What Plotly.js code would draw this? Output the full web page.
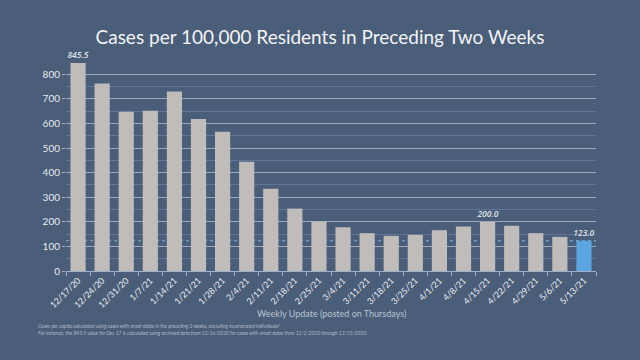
<!DOCTYPE html>
<html>
<head>
<meta charset="utf-8">
<script src="https://cdn.plot.ly/plotly-3.0.1.min.js"></script>
<style>html,body{margin:0;padding:0;background:#4a5d79;}#chart{width:640px;height:360px;}</style>
</head>
<body>
<div id="chart"></div>
<script>
const categories = ["12/17/20","12/24/20","12/31/20","1/7/21","1/14/21","1/21/21","1/28/21","2/4/21","2/11/21","2/18/21","2/25/21","3/4/21","3/11/21","3/18/21","3/25/21","4/1/21","4/8/21","4/15/21","4/22/21","4/29/21","5/6/21","5/13/21"];
const values = [845.5,763,648,652,730,618,566,444,335,254,202,178,154,143,147,166,181,200.0,184,154,139,123.0];
const valueLabels = ["<i>845.5</i>","","","","","","","","","","","","","","","","","<i>200.0</i>","","","","<i>123.0</i>"];
const highlightCategory = "5/13/21";
const referenceValue = 123.0;
const yTickValues = [0,100,200,300,400,500,600,700,800];

const barColors = categories.map(c => c === highlightCategory ? "#5ba6e1" : "#bfbcba");

const trace = {
  type: "bar",
  x: categories,
  y: values,
  text: valueLabels,
  textposition: "outside",
  constraintext: "none",
  cliponaxis: false,
  textfont: {family: "'Open Sans', Lato, sans-serif", size: 8.5, color: "#dfe2e7", style: "italic", weight: 600},
  marker: {color: barColors, line: {width: 0}},
  hoverinfo: "skip"
};

const layout = {
  width: 640, height: 360,
  paper_bgcolor: "#4a5d79",
  plot_bgcolor: "#4a5d79",
  margin: {l: 66, r: 44, t: 62, b: 89},
  bargap: 0.37,
  showlegend: false,
  title: {
    text: "Cases per 100,000 Residents in Preceding Two Weeks",
    font: {family: "Lato, sans-serif", size: 19, color: "#f2f3f5"},
    x: 0.5, xanchor: "center", y: 0.895, yanchor: "middle"
  },
  xaxis: {
    type: "category",
    tickangle: -45,
    tickson: "boundaries",
    ticks: "outside", ticklen: 4, tickcolor: "#9fb0c8",
    showline: true, linecolor: "#9fb0c8", linewidth: 1,
    showgrid: false,
    tickfont: {family: "Lato, sans-serif", size: 8.8, color: "#eef0f3"}
  },
  yaxis: {
    range: [0, 850],
    tickvals: yTickValues,
    ticks: "outside", ticklen: 3, tickcolor: "#9fb0c8",
    showline: false, zeroline: false,
    showgrid: true, gridcolor: "#98a9c2", gridwidth: 1,
    tickfont: {family: "Lato, sans-serif", size: 10, color: "#e8eaee"},
    minor: {dtick: 50, tick0: 0, showgrid: true, gridcolor: "#62769a", gridwidth: 1, ticks: ""}
  },
  shapes: [{
    type: "line", xref: "paper", x0: 0, x1: 1, yref: "y", y0: referenceValue, y1: referenceValue,
    line: {color: "#7fb2e0", width: 1, dash: "dot"}, layer: "below"
  }],
  annotations: [
    {xref: "paper", yref: "paper", x: 0.5, y: -0.201, xanchor: "center", yanchor: "middle", showarrow: false,
     text: "Weekly Update (posted on Thursdays)",
     font: {family: "Lato, sans-serif", size: 9, color: "#b9c3d2"}},
    {xref: "paper", yref: "paper", x: -0.057, y: -0.262, xanchor: "left", yanchor: "middle", showarrow: false,
     text: "<i>Cases per capita calculated using cases with onset dates in the preceding 2 weeks, excluding incarcerated individuals*</i>",
     font: {family: "Lato, sans-serif", size: 5, color: "#aeb9c9"}},
    {xref: "paper", yref: "paper", x: -0.057, y: -0.295, xanchor: "left", yanchor: "middle", showarrow: false,
     text: "<i>For instance, the 845.5 value for Dec 17 is calculated using archived data from 12/16/2020 for cases with onset dates from 12/2/2020 through 12/15/2020.</i>",
     font: {family: "Lato, sans-serif", size: 5, color: "#aeb9c9"}}
  ]
};

Plotly.newPlot("chart", [trace], layout, {staticPlot: true, displayModeBar: false});
</script>
</body>
</html>
